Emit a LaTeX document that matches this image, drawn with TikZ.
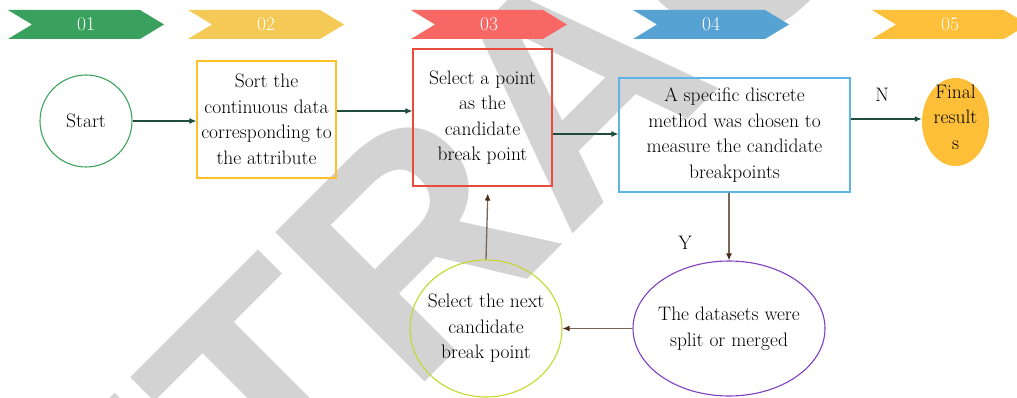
\documentclass[tikz,border=0pt]{standalone}
\usepackage{fontspec}
\newfontfamily\wmfont{Liberation Sans}
\usetikzlibrary{arrows.meta,shapes.geometric}

\definecolor{wmgray}{HTML}{D3D3D3}
\definecolor{chA}{HTML}{3AA05E}
\definecolor{chB}{HTML}{F4C955}
\definecolor{chC}{HTML}{F76865}
\definecolor{chD}{HTML}{55A2D3}
\definecolor{chE}{HTML}{FEC03A}
\definecolor{startgreen}{HTML}{3DA35D}
\definecolor{sortyellow}{HTML}{FFC125}
\definecolor{selectred}{HTML}{E84B3C}
\definecolor{methodblue}{HTML}{5BB5E5}
\definecolor{finalfill}{HTML}{FDBF38}
\definecolor{splitpurple}{HTML}{7E3FC0}
\definecolor{nextlime}{HTML}{C3D92E}
\definecolor{arrowgreen}{HTML}{1E4D40}
\definecolor{brownline}{HTML}{7A6656}
\definecolor{brownhead}{HTML}{4A2A1A}

\begin{document}
\begin{tikzpicture}[x=1pt,y=-1pt,
  font=\fontsize{19.5}{25.5}\selectfont,
  flowbox/.style={draw, line width=1.1pt, inner sep=0pt, align=center},
  flowoval/.style={ellipse, draw, line width=1.1pt, inner sep=0pt, align=center},
  gedge/.style={draw=arrowgreen, line width=1.3pt, -{Latex[length=7pt,width=6pt]}},
  bedge/.style={draw=brownline, line width=1.3pt, -{Latex[length=7pt,width=6pt,color=brownhead]}},
  chevlabel/.style={text=white, inner sep=0pt},
]
\useasboundingbox (0,0) rectangle (1017,398);
\clip (0,0) rectangle (1017,398);

% background stamp
\node[rotate=45, anchor=base west, inner sep=0pt, text=wmgray,
      font=\wmfont\bfseries\fontsize{307}{307}\selectfont] (stamp) at (-24,831) {RETRACTED};

% step chevrons
\foreach \x/\c/\n/\t in {8/chA/c1/01, 188/chB/c2/02, 411/chC/c3/03, 633/chD/c4/04, 872/chE/c5/05}{
  \fill[\c] (\x,10) -- (\x+132,10) -- (\x+156,24.5) -- (\x+132,39) -- (\x,39) -- (\x+24,24.5) -- cycle;
  \node[chevlabel] (\n) at (\x+78,24.5) {\t};
}

% flow nodes
\node[circle, draw=startgreen, line width=1.1pt, minimum size=92pt, inner sep=0pt] (start) at (86,121) {Start};
\node[flowbox, draw=sortyellow, minimum width=139pt, minimum height=117pt, inner xsep=-4pt] (sort) at (266.5,119.5)
  {Sort the\\continuous data\\corresponding to\\the attribute};
\node[flowbox, draw=selectred, minimum width=139pt, minimum height=137pt] (select) at (482.5,117.5)
  {Select a point\\as the\\candidate\\break point};
\node[flowbox, draw=methodblue, minimum width=231pt, minimum height=114pt] (method) at (734.5,135)
  {A specific discrete\\method was chosen to\\measure the candidate\\breakpoints};
\node[ellipse, fill=finalfill, inner xsep=0pt, inner ysep=-8pt, minimum width=67pt, minimum height=88pt, align=center] (final) at (955.5,122)
  {Final\\result\\s\rule[-10pt]{0pt}{10pt}};
\node[flowoval, draw=splitpurple, inner xsep=-12pt, minimum width=192pt, minimum height=135pt] (split) at (729,328.5)
  {The datasets were\\split or merged};
\node[flowoval, draw=nextlime, inner xsep=-14pt, minimum width=152pt, minimum height=137pt] (next) at (486,328.5)
  {Select the next\\candidate\\break point};

% connectors
\draw[gedge] (start.east) -- (start.east -| sort.west);
\draw[gedge] ([yshift=8.5pt]sort.east) -- ([yshift=8.5pt]sort.east -| select.west);
\draw[gedge] ([yshift=-16.5pt]select.east) -- ([yshift=-16.5pt]select.east -| method.west);
\draw[gedge] ([yshift=16pt]method.east) -- ([yshift=16pt]method.east -| final.west);
\draw[bedge] (method.south -| split.north) -- (split.north);
\draw[bedge] (split.west) -- (next.east);
\draw[bedge, shorten >=7pt] (next.north) -- ([xshift=5.5pt]select.south);

% branch labels
\node (nlab) at (882,95) {N};
\node (ylab) at (685,243) {Y};
\end{tikzpicture}
\end{document}
